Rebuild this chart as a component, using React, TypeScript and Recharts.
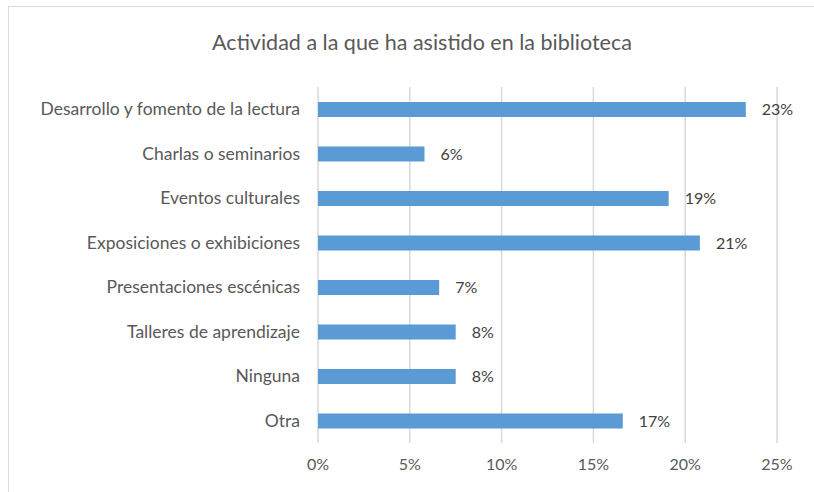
import { Bar, BarChart, CartesianGrid, LabelList, XAxis, YAxis } from 'recharts'

const categories = [
  'Desarrollo y fomento de la lectura',
  'Charlas o seminarios',
  'Eventos culturales',
  'Exposiciones o exhibiciones',
  'Presentaciones escénicas',
  'Talleres de aprendizaje',
  'Ninguna',
  'Otra',
]
const values = [23.3, 5.8, 19.1, 20.8, 6.6, 7.5, 7.5, 16.6]
const xTicks = [0, 5, 10, 15, 20, 25]

const data = categories.map((name, i) => ({ name, value: values[i] }))

const font = 'Lato, "Liberation Sans", sans-serif'

export default function App() {
  return (
    <div style={{ position: 'absolute', left: 0, top: 0, width: 814, height: 492, overflow: 'hidden', background: '#fff', fontFamily: font }}>
      <div style={{ position: 'absolute', left: 8, top: 6, width: 900, height: 600, border: '1px solid #d9d9d9' }} />
      <div style={{ position: 'absolute', left: 0, top: 29, width: 844, textAlign: 'center', fontSize: 21.5, color: '#595959' }}>
        Actividad a la que ha asistido en la biblioteca
      </div>
      <div style={{ position: 'absolute', left: 0, top: 0 }}>
        <BarChart width={814} height={492} data={data} layout="vertical" margin={{ top: 87, right: 37, left: 0, bottom: 0 }}>
          <CartesianGrid horizontal={false} stroke="#d9d9d9" strokeWidth={1.5} />
          <XAxis
            type="number"
            domain={[0, 25]}
            ticks={xTicks}
            tickFormatter={(v) => `${v}%`}
            axisLine={false}
            tickLine={false}
            height={49}
            tickMargin={10}
            tick={{ fill: '#595959', fontSize: 16, fontFamily: font }}
          />
          <YAxis
            type="category"
            dataKey="name"
            width={318}
            axisLine={false}
            tickLine={false}
            tickMargin={12}
            tick={{ fill: '#595959', fontSize: 17.5, fontFamily: font }}
          />
          <Bar dataKey="value" fill="#5b9bd5" barSize={15} isAnimationActive={false}>
            <LabelList
              dataKey="value"
              position="right"
              offset={16}
              formatter={(v: number) => `${Math.round(v)}%`}
              style={{ fill: '#404040', fontSize: 16, fontFamily: font }}
            />
          </Bar>
        </BarChart>
      </div>
    </div>
  )
}
